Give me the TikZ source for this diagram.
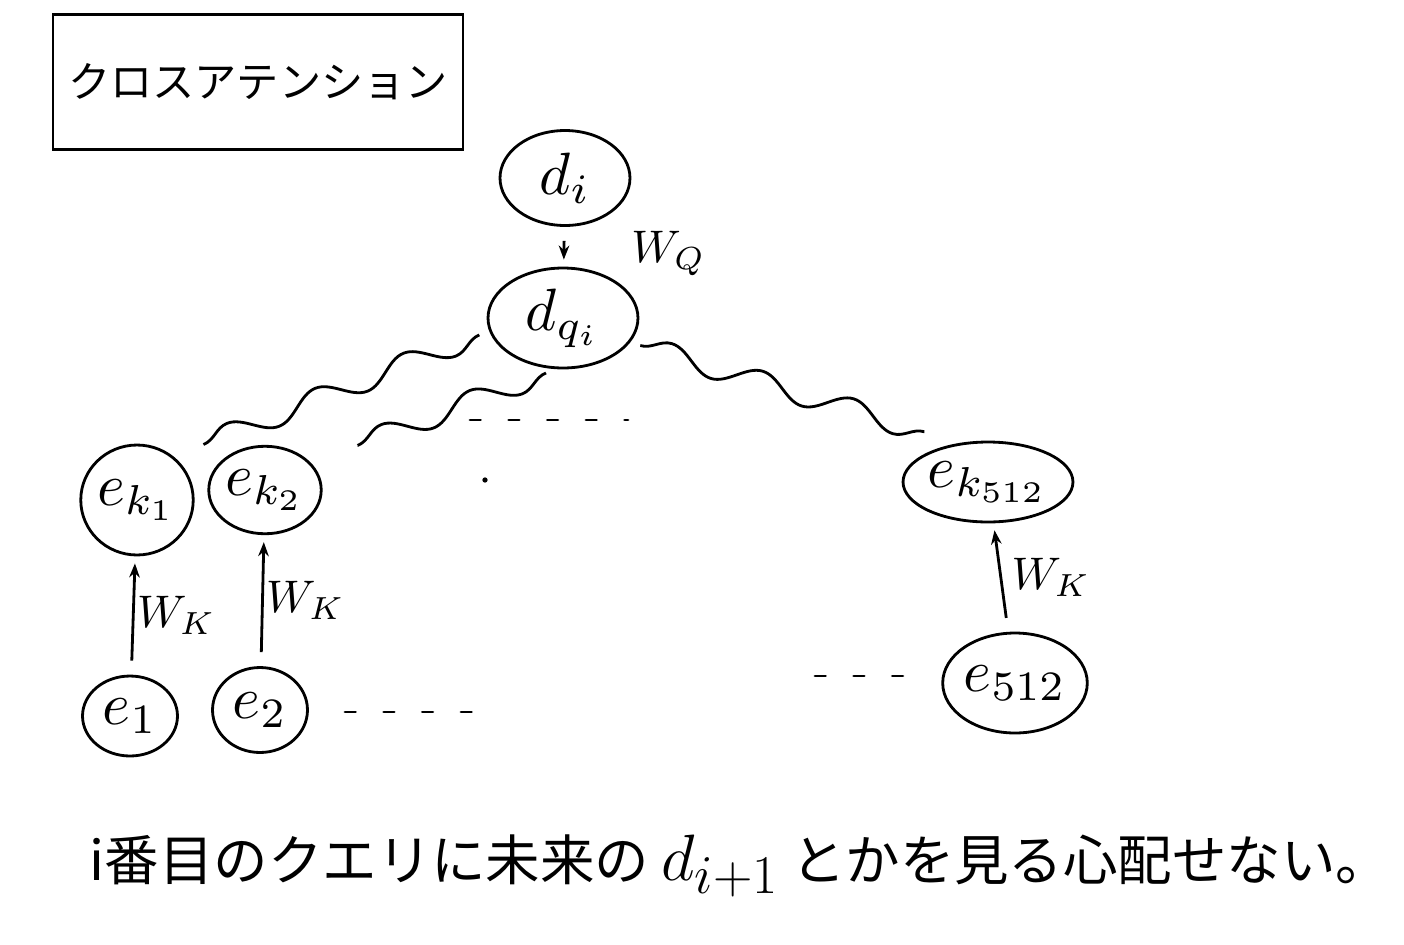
\documentclass[tikz,border=0pt]{standalone}
\usepackage{fontspec}
\newfontfamily\jpfont{Noto Sans CJK JP}
\usetikzlibrary{shapes.geometric,arrows.meta,decorations.pathmorphing}

\newcommand{\tokm}[2][3.4]{\scalebox{#1}{$#2$}}

\begin{document}
\begin{tikzpicture}[x=0.02cm, y=-0.02cm, line width=1.6pt,
    tok/.style={draw, ellipse, inner sep=0pt},
    proj/.style={-{Stealth[length=8pt]}, shorten <=8pt, shorten >=4pt},
    wavy/.style={decorate, decoration={snake, segment length=1.9cm, amplitude=0.22cm,
        pre=moveto, pre length=6pt, post=moveto, post length=6pt}},
    gap/.style={line cap=round, dash pattern=on 6pt off 16pt}]

    \useasboundingbox (0,0) rectangle (1404,944);

    \node[draw, minimum width=8.2cm, minimum height=2.7cm,
          font=\jpfont\fontsize{24}{26}\selectfont] (title) at (258,82) {クロスアテンション};

    % query side
    \node[tok, minimum width=2.6cm, minimum height=1.9cm] (di) at (565,178) {\tokm{d_i}};
    \node[tok, minimum width=3.0cm, minimum height=2.0cm] (dq) at (563,318) {\tokm{d_{q_i}}};

    % keys
    \node[tok, minimum width=2.2cm, minimum height=2.2cm] (ek1) at (137,500) {\tokm{e_{k_1}}};
    \node[tok, minimum width=2.0cm, minimum height=1.75cm] (ek2) at (265,490) {\tokm{e_{k_2}}};
    \node[tok, minimum width=3.2cm, minimum height=1.6cm] (ekL) at (988,482) {\tokm{e_{k_{512}}}};

    % encoder outputs
    \node[tok, minimum width=1.9cm, minimum height=1.6cm] (e1) at (130,716) {\tokm{e_1}};
    \node[tok, minimum width=1.9cm, minimum height=1.7cm] (e2) at (260,710) {\tokm{e_2}};
    \node[tok, minimum width=2.8cm, minimum height=2.0cm] (eL) at (1015,683) {\tokm{e_{512}}};

    \draw[proj] (di) -- node[right, xshift=1.2cm, yshift=-4pt] {\tokm[2.6]{W_Q}} (dq);
    \draw[proj] (e1) -- node[right, xshift=-2pt] {\tokm[2.6]{W_K}} (ek1);
    \draw[proj] (e2) -- node[right, xshift=-2pt] {\tokm[2.6]{W_K}} (ek2);
    \draw[proj] (eL) -- node[right, xshift=2pt] {\tokm[2.6]{W_K}} (ekL);

    \draw[wavy] (dq.190) -- (ek1.50);
    \draw[wavy] (dq.262) -- (ek2.30);
    \draw[wavy] (dq.340) -- (ekL.125);

    % elided ones
    \draw[gap] (470,420) -- (628,420);
    \fill (485,480) circle (1.5pt);
    \draw[gap] (345,712) -- (492,712);
    \draw[gap] (815,676) -- (910,676);

    \node[font=\jpfont\fontsize{31}{33}\selectfont] (note) at (740,866)
        {i番目のクエリに未来の \tokm[1.5]{d_{i+1}} とかを見る心配せない。};
\end{tikzpicture}
\end{document}
